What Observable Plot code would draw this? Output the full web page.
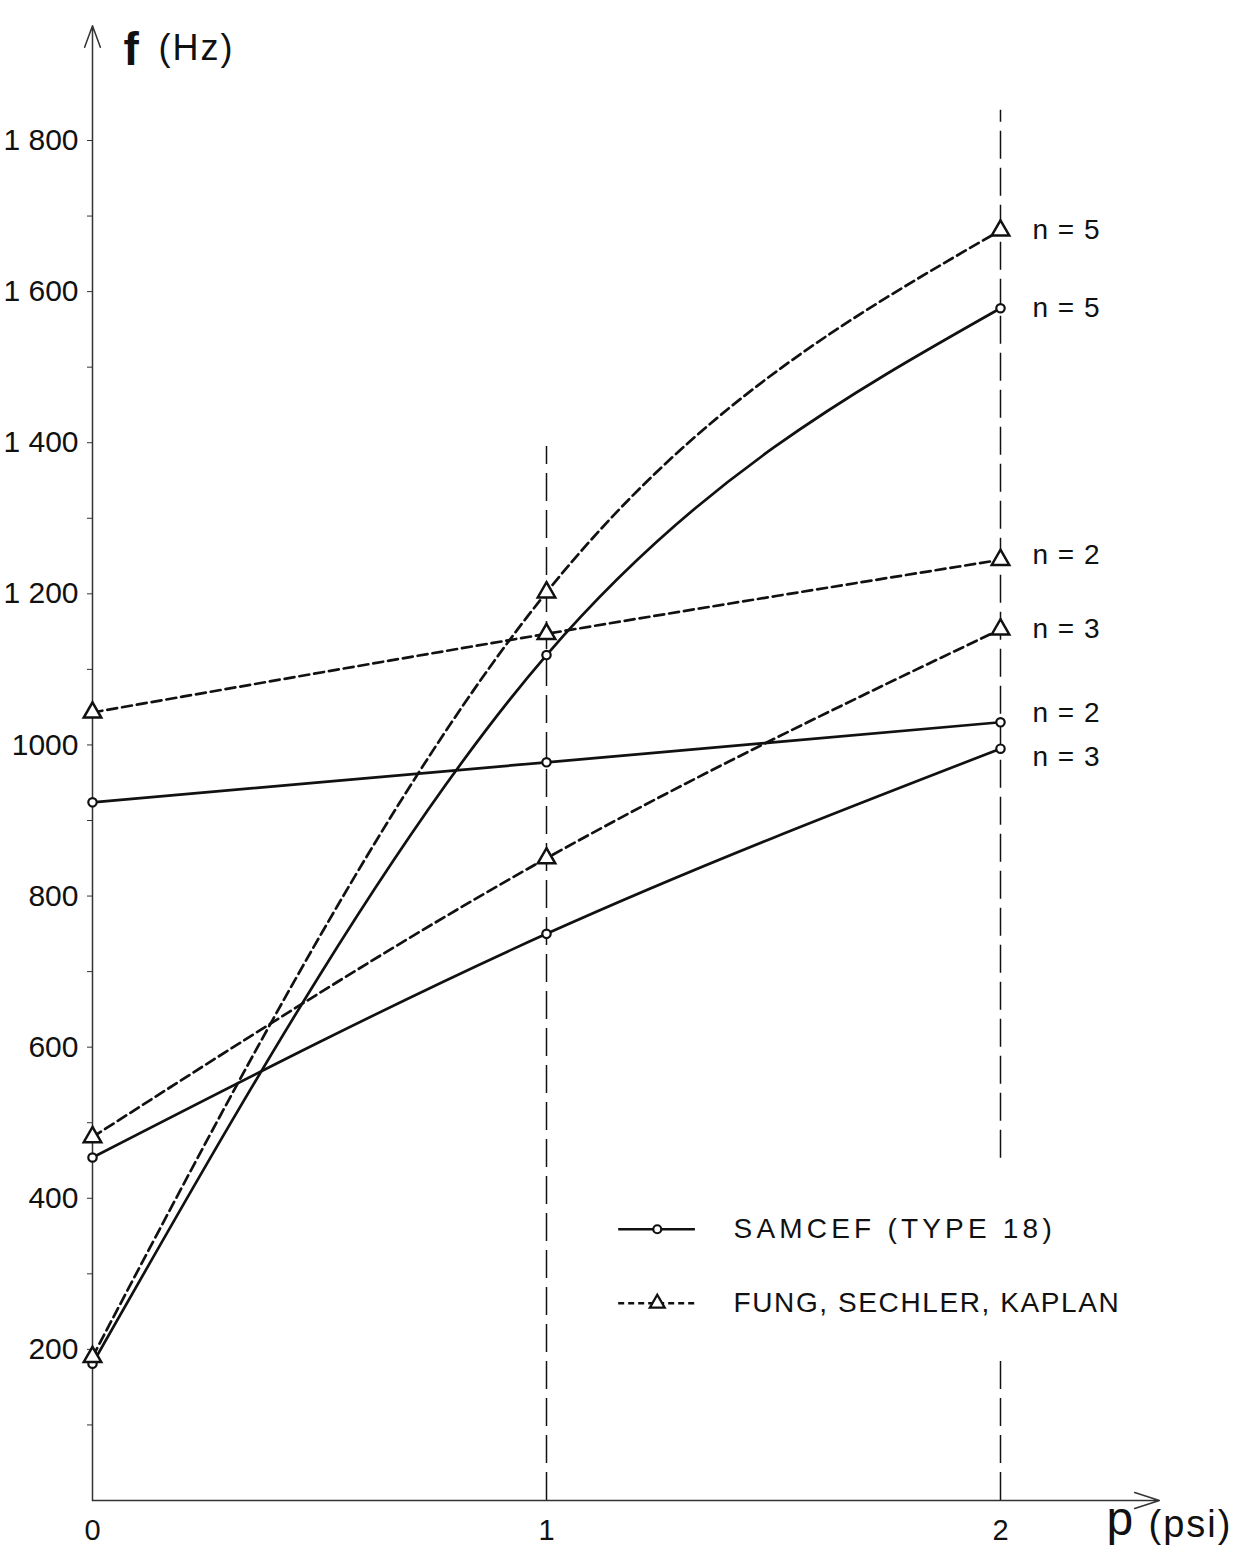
<!DOCTYPE html>
<html><head><meta charset="utf-8">
<script src="https://cdn.jsdelivr.net/npm/d3@7"></script>
<script src="https://cdn.jsdelivr.net/npm/@observablehq/plot@0.6"></script>
<style>
body{margin:0;background:#fff;}
</style></head><body><div id="chart"></div>
<script>
// ---- data ----
const pressures = [0, 1, 2];                 // p (psi)
const samcefN2 = [924, 977, 1030];           // f (Hz)
const samcefN3 = [454, 750, 995];
const samcefN5 = [181, 1119, 1578];
const fungN2 = [1043, 1147, 1245];
const fungN3 = [481, 850, 1153];
const fungN5 = [190, 1202, 1681];
const methods = ["SAMCEF (TYPE 18)", "FUNG, SECHLER, KAPLAN"];
const yTickValues = [200, 400, 600, 800, 1000, 1200, 1400, 1600, 1800];
const yTickLabels = ["200", "400", "600", "800", "1000", "1 200", "1 400", "1 600", "1 800"];
const yMinorTicks = [100, 200, 300, 400, 500, 600, 700, 800, 900, 1000, 1100, 1200, 1300, 1400, 1500, 1600, 1700, 1800];
const xTickValues = [0, 1, 2];
const xTickLabels = ["0", "1", "2"];

const series = [
  {method: methods[0], n: 2, values: samcefN2, shift: "up"},
  {method: methods[0], n: 3, values: samcefN3, shift: "down"},
  {method: methods[0], n: 5, values: samcefN5, shift: "none"},
  {method: methods[1], n: 2, values: fungN2, shift: "upSmall"},
  {method: methods[1], n: 3, values: fungN3, shift: "none"},
  {method: methods[1], n: 5, values: fungN5, shift: "none"}
];
const rows = series.flatMap(s => s.values.map((f, i) => ({method: s.method, n: s.n, key: s.method + s.n, p: pressures[i], f})));
const samcefRows = rows.filter(d => d.method === methods[0]);
const fungRows = rows.filter(d => d.method === methods[1]);
const ends = series.map(s => ({p: pressures[pressures.length - 1], f: s.values[s.values.length - 1], label: "n = " + s.n, shift: s.shift}));
const shiftPx = {none: 0, up: -9, down: 8, upSmall: -5};

// legend placement (data units inside the frame)
const legendSolid = [{label: methods[0], y: 359}];
const legendDashed = [{label: methods[1], y: 261}];
const legendX = [1.159, 1.328], legendMark = 1.244, legendText = 1.412;

const ink = "#111";
const font = "Liberation Sans, Arial, sans-serif";
const guide = {stroke: ink, strokeWidth: 1.5, strokeDasharray: "28,9"};

const plot = Plot.plot({
  width: 1253, height: 1561,
  marginLeft: 92, marginRight: 253, marginTop: 140, marginBottom: 61,
  x: {domain: [0, 2], axis: null},
  y: {domain: [0, 1800], axis: null},
  style: {fontFamily: font, color: ink, background: "#fff", overflow: "visible"},
  marks: [
    // guide lines at p = 1 and p = 2
    Plot.ruleX([1], {y1: 0, y2: 1395, ...guide}),
    Plot.ruleX([2], {y1: 453, y2: 1840, ...guide}),
    Plot.ruleX([2], {y1: 0, y2: 188, ...guide}),
    // axes with arrows
    Plot.arrow([0], {x1: 0, y1: 0, x2: 0, y2: 1952, stroke: "#333", strokeWidth: 1.5, headLength: 23, headAngle: 40}),
    Plot.arrow([0], {x1: 0, y1: 0, x2: 2.35, y2: 0, stroke: "#333", strokeWidth: 1.5, headLength: 26, headAngle: 36}),
    Plot.axisY(yMinorTicks, {tickSize: 5, tickFormat: () => "", label: null, stroke: "#333"}),
    Plot.text(yTickValues, {x: 0, y: d => d, text: (d, i) => yTickLabels[i], textAnchor: "end", dx: -14, fontSize: 30, fill: ink}),
    Plot.text(xTickValues, {x: d => d, y: 0, text: (d, i) => xTickLabels[i], dy: 30, fontSize: 29, fill: ink}),
    // data lines
    Plot.line(samcefRows, {x: "p", y: "f", z: "key", curve: "natural", stroke: ink, strokeWidth: 2.7}),
    Plot.line(fungRows, {x: "p", y: "f", z: "key", curve: "natural", stroke: ink, strokeWidth: 2.7, strokeDasharray: "10,5"}),
    Plot.dot(samcefRows, {x: "p", y: "f", r: 4.2, symbol: "circle", fill: "#fff", stroke: ink, strokeWidth: 2.2}),
    Plot.dot(fungRows, {x: "p", y: "f", r: 6.5, symbol: "triangle", fill: "#fff", stroke: ink, strokeWidth: 2.5}),
    // n labels (one mark per vertical shift)
    ...Object.keys(shiftPx).map(k =>
      Plot.text(ends.filter(d => d.shift === k), {x: "p", y: "f", text: "label", dx: 32, dy: shiftPx[k], textAnchor: "start", fontSize: 28, fill: ink})
    ),
    // legend
    Plot.ruleY(legendSolid, {y: "y", x1: legendX[0], x2: legendX[1], stroke: ink, strokeWidth: 2.4}),
    Plot.ruleY(legendDashed, {y: "y", x1: legendX[0], x2: legendX[1], stroke: ink, strokeWidth: 2.4, strokeDasharray: "6,4"}),
    Plot.dot(legendSolid, {x: legendMark, y: "y", symbol: "circle", r: 4, fill: "#fff", stroke: ink, strokeWidth: 2.2}),
    Plot.dot(legendDashed, {x: legendMark, y: "y", symbol: "triangle", r: 5.5, fill: "#fff", stroke: ink, strokeWidth: 2.3}),
    Plot.text([...legendSolid, ...legendDashed], {x: legendText, y: "y", text: "label", textAnchor: "start", fontSize: 28, fill: ink}),
    // axis titles
    Plot.text(["f"], {frameAnchor: "top-left", dx: 31, dy: -108, fontSize: 46, fontWeight: "bold", textAnchor: "start", fill: ink}),
    Plot.text(["(Hz)"], {frameAnchor: "top-left", dx: 66, dy: -106, fontSize: 36, textAnchor: "start", fill: ink}),
    Plot.text(["p"], {frameAnchor: "bottom-right", dx: 106, dy: 34, fontSize: 48, textAnchor: "start", fill: ink}),
    Plot.text(["(psi)"], {frameAnchor: "bottom-right", dx: 148, dy: 36, fontSize: 38, textAnchor: "start", fill: ink})
  ]
});
// letter spacing to mimic the stencil lettering
d3.select(plot).selectAll("text").each(function () {
  const t = this.textContent;
  if (t === methods[0]) d3.select(this).style("letter-spacing", "4.2px");
  else if (t === methods[1]) d3.select(this).style("letter-spacing", "1.6px");
  else if (t.startsWith("n =")) d3.select(this).style("letter-spacing", "1px");
  else if (t === "(Hz)" || t === "(psi)") d3.select(this).style("letter-spacing", "2px");
});
document.getElementById("chart").append(plot);
</script></body></html>
